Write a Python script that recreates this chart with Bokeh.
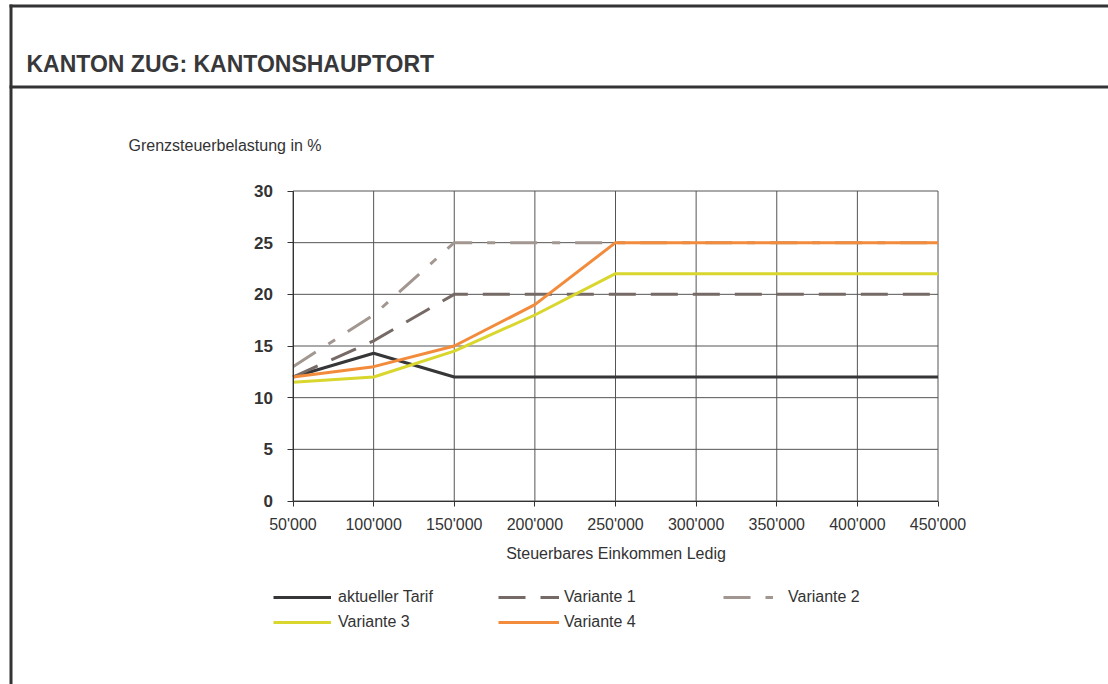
from bokeh.plotting import figure
from bokeh.models import Range1d, FixedTicker, Legend, LegendItem, Label, LinearAxis
from bokeh.embed import file_html
from bokeh.resources import INLINE

# ---------------- data ----------------
title_text = "KANTON ZUG: KANTONSHAUPTORT"
y_title = "Grenzsteuerbelastung in %"
x_title = "Steuerbares Einkommen Ledig"

income = [50000, 100000, 150000, 200000, 250000, 300000, 350000, 400000, 450000]
x_tick_labels = ["50'000", "100'000", "150'000", "200'000", "250'000",
                 "300'000", "350'000", "400'000", "450'000"]
y_ticks = [0, 5, 10, 15, 20, 25, 30]

aktueller_tarif = [12, 14.3, 12, 12, 12, 12, 12, 12, 12]
variante_1 = [12, 15.5, 20, 20, 20, 20, 20, 20, 20]
variante_2 = [13, 18, 25, 25, 25, 25, 25, 25, 25]
variante_3 = [11.5, 12, 14.5, 18, 22, 22, 22, 22, 22]
variante_4 = [12, 13, 15, 19, 25, 25, 25, 25, 25]

series_names = ["aktueller Tarif", "Variante 1", "Variante 2", "Variante 3", "Variante 4"]
series_values = [aktueller_tarif, variante_1, variante_2, variante_3, variante_4]
series_colors = ["#363638", "#766a66", "#a29690", "#d9d62e", "#f28b3b"]
series_dashes = ["solid", "27 15", "27 15 8 15", "solid", "solid"]

FONT = "Liberation Sans"
TXT = "#333333"
FRAME = "#333335"

# ---------------- page geometry (pixels) ----------------
W, H = 1108, 684
PX_LEFT, PX_RIGHT = 292.5, 937.5      # pixel x of first / last income tick
PY_BOTTOM, PY_TOP = 500.5, 190.5      # pixel y of first / last y tick

x0, x1 = income[0], income[-1]
y0, y1 = y_ticks[0], y_ticks[-1]
kx = (x1 - x0) / (PX_RIGHT - PX_LEFT)
ky = (y1 - y0) / (PY_BOTTOM - PY_TOP)


def X(px):
    return x0 + (px - PX_LEFT) * kx


def Y(py):
    return y0 + (PY_BOTTOM - py) * ky


p = figure(width=W, height=H, x_range=Range1d(X(0), X(W)), y_range=Range1d(Y(H), Y(0)),
           x_axis_type=None, y_axis_type=None, toolbar_location=None,
           output_backend="svg", min_border=0, outline_line_color=None,
           styles={"position": "absolute", "left": "0px", "top": "0px"})

# page frame: left bar, top line, line under title
p.quad(left=[X(9), X(9), X(9)], right=[X(12), X(W), X(W)],
       top=[Y(4), Y(4), Y(85)], bottom=[Y(H), Y(7), Y(88)],
       fill_color=FRAME, line_color=None)

p.add_layout(Label(x=26, y=H - 63.5, x_units="screen", y_units="screen", text=title_text,
                   text_font=FONT, text_font_style="bold", text_font_size="23px",
                   text_color="#38383a", text_baseline="alphabetic", text_align="left"))

p.add_layout(Label(x=128, y=H - 145, x_units="screen", y_units="screen", text=y_title,
                   text_font=FONT, text_font_size="16px", text_color=TXT,
                   text_baseline="alphabetic", text_align="left"))

# grid lines at the tick positions
p.segment(x0=income, y0=[y0] * len(income), x1=income, y1=[y1] * len(income),
          line_color="#555555", line_width=1)
p.segment(x0=[x0] * len(y_ticks), y0=y_ticks, x1=[x1] * len(y_ticks), y1=y_ticks,
          line_color="#555555", line_width=1)

# axes fixed at the chart's corner
yax = LinearAxis(fixed_location=x0, bounds=(y0, y1), ticker=FixedTicker(ticks=y_ticks))
xax = LinearAxis(fixed_location=y0, bounds=(x0, x1), ticker=FixedTicker(ticks=income),
                 major_label_overrides={t: l for t, l in zip(income, x_tick_labels)},
                 axis_label=x_title)
for ax in (xax, yax):
    ax.axis_line_color = "#333333"
    ax.major_tick_line_color = "#333333"
    ax.minor_tick_line_color = None
    ax.major_tick_in = 0
    ax.major_label_text_color = TXT
    ax.major_label_text_font = FONT

yax.major_tick_out = 6
yax.major_label_standoff = 14
yax.major_label_text_font_size = "17px"
yax.major_label_text_font_style = "bold"

xax.major_tick_out = 5
xax.major_label_standoff = 10
xax.major_label_text_font_size = "16px"
xax.axis_label_text_font = FONT
xax.axis_label_text_font_size = "16px"
xax.axis_label_text_font_style = "normal"
xax.axis_label_text_color = TXT
xax.axis_label_standoff = 8

p.add_layout(yax, "left")
p.add_layout(xax, "below")

renderers = []
for name, vals, col, dash in zip(series_names, series_values, series_colors, series_dashes):
    r = p.line(income, vals, line_color=col, line_width=3, line_dash=dash,
               line_join="round" if dash == "solid" else "miter")
    renderers.append(r)


def make_legend(idx, x, y, gw, standoff):
    items = [LegendItem(label=series_names[i], renderers=[renderers[i]]) for i in idx]
    return Legend(items=items, location=(x, y), orientation="vertical",
                  glyph_width=gw, glyph_height=20, label_height=20, label_standoff=standoff,
                  spacing=5, padding=0, margin=0, border_line_color=None,
                  background_fill_alpha=0, label_text_font=FONT,
                  label_text_font_size="16px", label_text_color=TXT)


p.add_layout(make_legend([0, 3], 273, H - 632, 58, 7))
p.add_layout(make_legend([1, 4], 498, H - 632, 61, 5))
p.add_layout(make_legend([2], 723, H - 607, 50, 15))

open("out.html", "w").write(file_html(p, INLINE))
